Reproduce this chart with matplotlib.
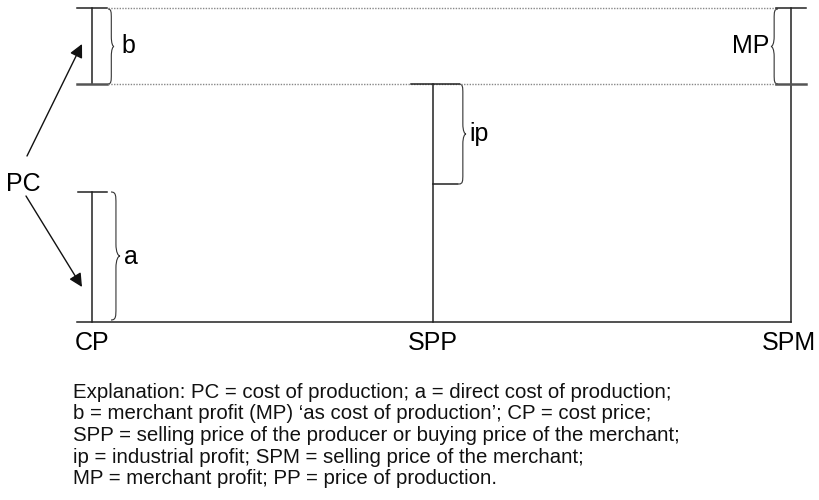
import matplotlib
matplotlib.use("Agg")
import matplotlib.pyplot as plt
from matplotlib.path import Path
from matplotlib.patches import PathPatch, FancyArrowPatch

plt.rcParams['font.family'] = ['Liberation Sans', 'DejaVu Sans']

# Diagram levels (pixel-like units, y grows downward)
x_cp, x_spp, x_spm = 92, 433, 791
y_base, y_a, y_ip, y_top, y_mid = 322, 192, 184, 8, 84
point_labels = ["CP", "SPP", "SPM"]
point_x = [x_cp, x_spp, 789]
explanation = [
    "Explanation: PC = cost of production; a = direct cost of production;",
    "b = merchant profit (MP) \u2018as cost of production\u2019; CP = cost price;",
    "SPP = selling price of the producer or buying price of the merchant;",
    "ip = industrial profit; SPM = selling price of the merchant;",
    "MP = merchant profit; PP = price of production.",
]

fig = plt.figure(figsize=(8.19, 5.0), dpi=100)
ax = fig.add_axes([0, 0, 1, 1])
ax.set_xlim(0, 819)
ax.set_ylim(500, 0)
ax.axis('off')

lc = '#222222'
lw = 1.1

def brace(x, y0, y1, w, c=10):
    h = w * 0.55
    ym = (y0 + y1) / 2.0
    verts = [(x, y0), (x + h, y0), (x + h, y0 + c * 0.3), (x + h, y0 + c),
             (x + h, ym - c),
             (x + h, ym - c * 0.3), (x + w * 0.8, ym), (x + w, ym),
             (x + w * 0.8, ym), (x + h, ym + c * 0.3), (x + h, ym + c),
             (x + h, y1 - c),
             (x + h, y1 - c * 0.3), (x + h, y1), (x, y1)]
    codes = [Path.MOVETO, Path.CURVE4, Path.CURVE4, Path.CURVE4,
             Path.LINETO,
             Path.CURVE4, Path.CURVE4, Path.CURVE4,
             Path.CURVE4, Path.CURVE4, Path.CURVE4,
             Path.LINETO,
             Path.CURVE4, Path.CURVE4, Path.CURVE4]
    ax.add_patch(PathPatch(Path(verts, codes), fill=False, lw=0.8, ec='#333333'))

# baseline
ax.plot([77, x_spm], [y_base, y_base], color=lc, lw=lw)
# CP lower bar
ax.plot([x_cp, x_cp], [y_a, y_base], color=lc, lw=lw)
ax.plot([78, 107], [y_a, y_a], color=lc, lw=lw)
# CP upper bar (b)
ax.plot([x_cp, x_cp], [y_top, y_mid], color=lc, lw=lw)
ax.plot([77, 107], [y_top, y_top], color=lc, lw=lw)
ax.plot([77, 107], [y_mid, y_mid], color='#555555', lw=1.8)
# dotted lines
ax.plot([108, 776], [y_top, y_top], color='#888888', lw=1.0, ls=(0, (1, 1)))
ax.plot([108, 776], [y_mid, y_mid], color='#888888', lw=1.0, ls=(0, (1, 1)))
# SPP
ax.plot([x_spp, x_spp], [y_mid, y_base], color=lc, lw=lw)
ax.plot([411, 459], [y_mid, y_mid], color=lc, lw=lw)
ax.plot([x_spp, 458], [y_ip, y_ip], color=lc, lw=lw)
# SPM
ax.plot([x_spm, x_spm], [y_top, y_base], color=lc, lw=lw)
ax.plot([776, 806], [y_top, y_top], color=lc, lw=lw)
ax.plot([776, 806], [y_mid, y_mid], color='#555555', lw=1.8)

# braces
brace(111, y_a, y_base - 2, 9, c=12)
brace(108, y_top + 1, y_mid, 6, c=10)
brace(459, y_mid, y_ip, 7, c=10)
brace(778, y_top + 1, y_mid, -7, c=10)

fs_big = 18
ax.text(124, (y_a + y_base) / 2, "a", fontsize=fs_big, va='center', ha='left')
ax.text(121, (y_top + y_mid) / 2, "b", fontsize=fs_big, va='center', ha='left')
ax.text(469, (y_mid + y_ip) / 2, "ip", fontsize=fs_big, va='center', ha='left')
ax.text(769, (y_top + y_mid) / 2, "MP", fontsize=fs_big, va='center', ha='right')
ax.text(23, 184, "PC", fontsize=fs_big, va='center', ha='center')

for lab, xp in zip(point_labels, point_x):
    ax.text(xp, 343, lab, fontsize=fs_big, va='center', ha='center')

# arrows
for start, end in [((27, 156), (82, 44)), ((26, 196), (82, 287))]:
    ax.add_patch(FancyArrowPatch(start, end, arrowstyle='-|>', mutation_scale=20,
                                 color='#111111', lw=1.0, shrinkA=0, shrinkB=0))

for i, line in enumerate(explanation):
    ax.text(73, 392 + i * 21.7, line, fontsize=14.7, va='center', ha='left', color='#111111')

fig.savefig("out.png", dpi=100)
